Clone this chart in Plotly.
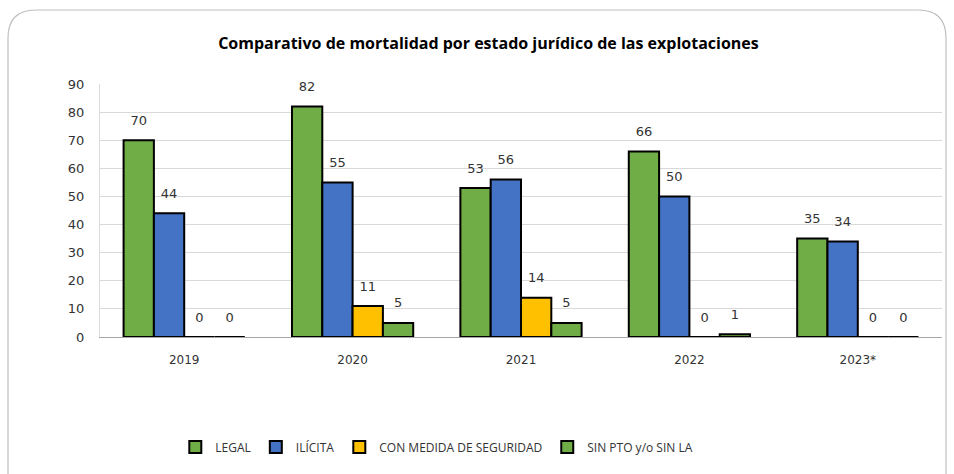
import plotly.graph_objects as go

categories = ["2019", "2020", "2021", "2022", "2023*"]
series_names = ["LEGAL", "ILÍCITA", "CON MEDIDA DE SEGURIDAD", "SIN PTO y/o SIN LA"]
legal = [70, 82, 53, 66, 35]
ilicita = [44, 55, 56, 50, 34]
medida = [0, 11, 14, 0, 0]
sin_pto = [0, 5, 5, 1, 0]
y_ticks = [0, 10, 20, 30, 40, 50, 60, 70, 80, 90]

series = [legal, ilicita, medida, sin_pto]
colors = ["#70AD47", "#4472C4", "#FFC000", "#70AD47"]

W, H = 954, 474
L, R, T, B = 100, 12, 84, 137
pw, ph = W - L - R, H - T - B

n = len(series)
bar_w = 0.18
xs = list(range(len(categories)))
fig = go.Figure()
for i, (name, vals, col) in enumerate(zip(series_names, series, colors)):
    off = (i - (n - 1) / 2) * bar_w
    fig.add_trace(go.Bar(
        x=[x + off for x in xs], y=vals, width=bar_w, name=name,
        marker=dict(color=col, line=dict(color="black", width=2)),
        hoverinfo="y",
    ))
for i, (name, vals, col) in enumerate(zip(series_names, series, colors)):
    off = (i - (n - 1) / 2) * bar_w
    fig.add_trace(go.Scatter(
        x=[x + off for x in xs], y=vals, mode="markers+text",
        text=[str(v) for v in vals], textposition="top center",
        marker=dict(size=18, opacity=0), showlegend=False, cliponaxis=False,
        textfont=dict(family="DejaVu Sans", size=13, color="#333333"),
        hoverinfo="skip",
    ))

# rounded border of the chart area (paper coords)
def px_x(p):
    return (p - L) / pw
def px_y(p):
    return (H - B - p) / ph
x0, x1, y0, y1, r = 8, 946, 10, 490, 28
path = (f"M {px_x(x0)},{px_y(y0 + r)} "
        f"Q {px_x(x0)},{px_y(y0)} {px_x(x0 + r)},{px_y(y0)} "
        f"L {px_x(x1 - r)},{px_y(y0)} "
        f"Q {px_x(x1)},{px_y(y0)} {px_x(x1)},{px_y(y0 + r)} "
        f"L {px_x(x1)},{px_y(y1)} L {px_x(x0)},{px_y(y1)} Z")
fig.add_shape(type="path", path=path, xref="paper", yref="paper",
              line=dict(color="#BFBFBF", width=1.2), layer="below")

fig.update_layout(
    width=W, height=H,
    margin=dict(l=L, r=R, t=T, b=B),
    paper_bgcolor="white", plot_bgcolor="white",
    title=dict(text="<b>Comparativo de mortalidad por estado jurídico de las explotaciones</b>",
               x=0.512, xref="container", xanchor="center", y=1 - 43 / H, yanchor="middle",
               font=dict(family="Open Sans", size=16, color="black")),
    barmode="overlay",
    showlegend=True,
    legend=dict(orientation="h", x=0.40, xanchor="center", y=(H - B - 447) / ph, yanchor="middle",
                font=dict(family="Open Sans", size=12, color="#333333"),
                itemwidth=30, traceorder="normal"),
    font=dict(family="DejaVu Sans", color="#333333"),
)
fig.update_xaxes(range=[-0.5, len(categories) - 0.5], tickvals=xs, ticktext=categories,
                 showgrid=False, zeroline=False, showline=True, linecolor="#A6A6A6",
                 ticks="", ticklabelstandoff=12,
                 tickfont=dict(family="DejaVu Sans", size=12, color="#333333"),
                 fixedrange=True)
fig.update_yaxes(range=[0, 90], tickvals=y_ticks, showgrid=True, gridcolor="#D9D9D9",
                 zeroline=False, showline=True, linecolor="#D9D9D9", ticks="",
                 ticklabelstandoff=12,
                 tickfont=dict(family="DejaVu Sans", size=13, color="#333333"),
                 fixedrange=True)

fig.write_html("out.html", config={"displayModeBar": False},
               post_script="document.body.style.margin='0';document.body.style.overflow='hidden';")
